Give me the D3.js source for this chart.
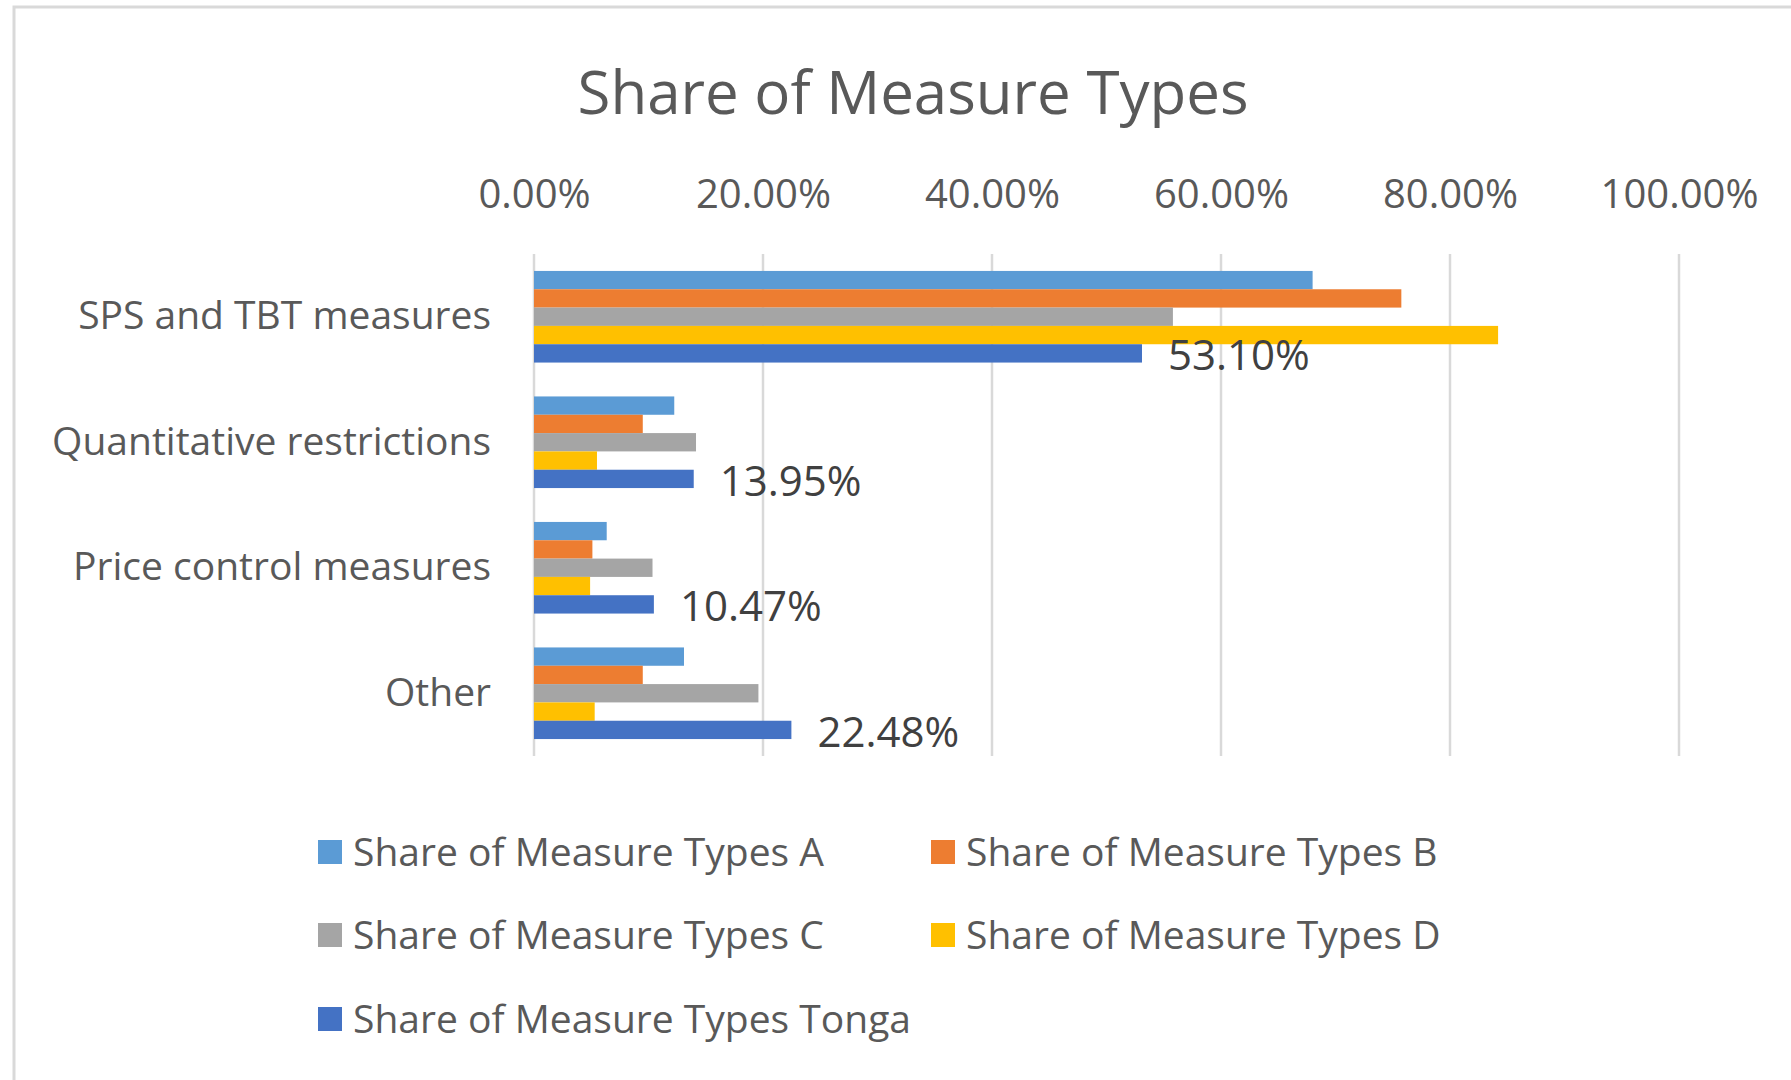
<!DOCTYPE html>
<html>
<head>
<meta charset="utf-8">
<script src="https://cdn.jsdelivr.net/npm/d3@7/dist/d3.min.js"></script>
<style>
  body { margin: 0; background: #fff; }
  svg text { font-family: "Open Sans", sans-serif; fill: #595959; }
</style>
</head>
<body>
<div id="canvas"></div>
<script>
// data
var categories = ["SPS and TBT measures", "Quantitative restrictions", "Price control measures", "Other"];
var seriesNames = ["Share of Measure Types A", "Share of Measure Types B", "Share of Measure Types C",
                   "Share of Measure Types D", "Share of Measure Types Tonga"];
var seriesA = [0.680, 0.1225, 0.0635, 0.131];
var seriesB = [0.7575, 0.095, 0.051, 0.095];
var seriesC = [0.558, 0.1415, 0.1035, 0.196];
var seriesD = [0.842, 0.055, 0.049, 0.053];
var seriesTonga = [0.5310, 0.1395, 0.1047, 0.2248];
var tickValues = [0, 0.2, 0.4, 0.6, 0.8, 1.0];
var colors = ["#5B9BD5", "#ED7D31", "#A5A5A5", "#FFC000", "#4472C4"];

var allSeries = [seriesA, seriesB, seriesC, seriesD, seriesTonga];

var winWidth = 1791, winHeight = 1080;

var svg = d3.select("#canvas").append("svg")
  .attr("width", winWidth)
  .attr("height", winHeight);

// chart frame
svg.append("rect")
  .attr("x", 14).attr("y", 7)
  .attr("width", winWidth).attr("height", winHeight)
  .attr("fill", "#fff")
  .attr("stroke", "#D9D9D9")
  .attr("stroke-width", 3);

var plot = { left: 534, right: 1679, top: 254, bottom: 756 };

var x = d3.scaleLinear()
  .domain([0, 1])
  .range([plot.left, plot.right]);

var y = d3.scaleBand()
  .domain(categories)
  .range([plot.top, plot.bottom])
  .paddingInner(0.27)
  .paddingOuter(0.135);

var ySub = d3.scaleBand()
  .domain(d3.range(seriesNames.length))
  .range([0, y.bandwidth()]);

// title
svg.append("text")
  .attr("x", 913)
  .attr("y", 114)
  .attr("text-anchor", "middle")
  .style("font-size", "60px")
  .text("Share of Measure Types");

// gridlines
svg.append("g").selectAll("line")
  .data(tickValues)
  .enter().append("line")
  .attr("x1", function(d) { return x(d); })
  .attr("x2", function(d) { return x(d); })
  .attr("y1", plot.top)
  .attr("y2", plot.bottom)
  .attr("stroke", "#D9D9D9")
  .attr("stroke-width", 2.5);

// top axis labels
var xAxis = d3.axisTop(x)
  .tickValues(tickValues)
  .tickFormat(d3.format(".2%"))
  .tickSize(0)
  .tickPadding(0);

var gX = svg.append("g")
  .attr("transform", "translate(0,208)")
  .call(xAxis);
gX.select(".domain").remove();
gX.selectAll("text")
  .style("font-size", "40px")
  .attr("fill", "#595959");

// category labels
var yAxis = d3.axisLeft(y).tickSize(0).tickPadding(0);
var gY = svg.append("g")
  .attr("transform", "translate(491,0)")
  .call(yAxis);
gY.select(".domain").remove();
gY.selectAll("text")
  .style("font-size", "39px")
  .attr("fill", "#595959");

// bars
var groups = svg.append("g").selectAll("g")
  .data(allSeries)
  .enter().append("g")
  .attr("fill", function(d, i) { return colors[i]; });

groups.each(function(vals, si) {
  d3.select(this).selectAll("rect")
    .data(vals)
    .enter().append("rect")
    .attr("x", x(0))
    .attr("y", function(d, ci) { return y(categories[ci]) + ySub(si); })
    .attr("width", function(d) { return x(d) - x(0); })
    .attr("height", ySub.bandwidth());
});

// data labels on Tonga
svg.append("g").selectAll("text")
  .data(seriesTonga)
  .enter().append("text")
  .attr("x", function(d) { return x(d) + 26; })
  .attr("y", function(d, ci) { return y(categories[ci]) + ySub(4) + ySub.bandwidth() / 2 + 2; })
  .attr("dy", "0.35em")
  .style("font-size", "42px")
  .style("fill", "#404040")
  .text(function(d) { return d3.format(".2%")(d); });

// legend
var legendPos = [
  { x: 318, y: 852 }, { x: 931, y: 852 },
  { x: 318, y: 935 }, { x: 931, y: 935 },
  { x: 318, y: 1019 }
];

var legend = svg.append("g").selectAll("g")
  .data(seriesNames)
  .enter().append("g")
  .attr("transform", function(d, i) { return "translate(" + legendPos[i].x + "," + legendPos[i].y + ")"; });

legend.append("rect")
  .attr("x", 0).attr("y", -12)
  .attr("width", 24).attr("height", 24)
  .attr("fill", function(d, i) { return colors[i]; });

legend.append("text")
  .attr("x", 35)
  .attr("dy", "0.35em")
  .style("font-size", "39px")
  .text(function(d) { return d; });
</script>
</body>
</html>
